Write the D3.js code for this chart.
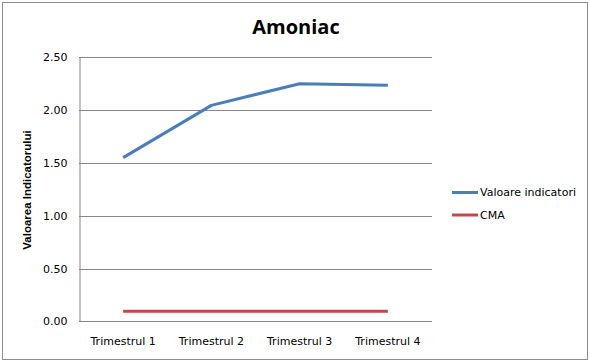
<!DOCTYPE html>
<html><head><meta charset="utf-8">
<script src="https://cdn.jsdelivr.net/npm/d3@7"></script>
<style>body{margin:0;background:#fff}svg{display:block}</style>
</head><body>
<svg id="c" width="590" height="362"></svg>
<script>
const categories = ["Trimestrul 1","Trimestrul 2","Trimestrul 3","Trimestrul 4"];
const valoareIndicatori = [1.55, 2.045, 2.25, 2.235];
const cma = [0.095, 0.095, 0.095, 0.095];
const yTicks = [0, 0.5, 1.0, 1.5, 2.0, 2.5];
const seriesNames = ["Valoare indicatori", "CMA"];
const seriesColors = ["#4a7ebb", "#be4b48"];

(function(){
const svg = d3.select("#c");
const font = "'DejaVu Sans', Verdana, sans-serif";
const pLeft = 79, pRight = 432, pTop = 57.3, pBottom = 321.3;

svg.append("rect").attr("x",2.5).attr("y",2.5).attr("width",585).attr("height",357)
  .attr("fill","#fff").attr("stroke","#8c8c8c").attr("stroke-width",1);

const x = d3.scaleBand().domain(categories).range([pLeft, pRight]).padding(0);
const y = d3.scaleLinear().domain([0, 2.5]).range([pBottom, pTop]);

svg.append("g").selectAll("line").data(yTicks).join("line")
  .attr("x1", pLeft).attr("x2", pRight)
  .attr("y1", d => Math.round(y(d))+0.5).attr("y2", d => Math.round(y(d))+0.5)
  .attr("stroke", "#868686").attr("stroke-width", 1);

const yAxis = d3.axisLeft(y).tickValues(yTicks).tickFormat(d3.format(".2f")).tickSize(0).tickPadding(12);
const ya = svg.append("g").attr("transform", `translate(${pLeft+0.5},0)`).call(yAxis);
ya.select(".domain").attr("stroke","#868686");
ya.selectAll("text").attr("font-family", font).attr("font-size", 11).attr("fill","#000");

const xAxis = d3.axisBottom(x).tickSize(0).tickPadding(16);
const xa = svg.append("g").attr("transform", `translate(0,${Math.round(pBottom)+0.5})`).call(xAxis);
xa.select(".domain").remove();
xa.selectAll("text").attr("font-family", font).attr("font-size", 11).attr("fill","#000");

const line = d3.line().x((d,i) => x(categories[i]) + x.bandwidth()/2).y(d => y(d));
[valoareIndicatori, cma].forEach((s, k) => {
  svg.append("path").datum(s).attr("d", line).attr("fill","none")
    .attr("stroke", seriesColors[k]).attr("stroke-width", 3).attr("stroke-linejoin","round");
});

svg.append("text").attr("x", 296).attr("y", 34).attr("text-anchor","middle")
  .attr("font-family", "'Open Sans', 'DejaVu Sans', sans-serif").attr("font-weight","bold")
  .attr("font-size", 20).text("Amoniac");

svg.append("text").attr("transform", "translate(31,190) rotate(-90)").attr("text-anchor","middle")
  .attr("font-family", "'Liberation Sans', Arial, sans-serif").attr("font-weight","bold").attr("font-size", 11.5).text("Valoarea Indicatorului");

const lg = svg.append("g");
seriesNames.forEach((n, k) => {
  const ly = 192.5 + k*22.5;
  lg.append("line").attr("x1", 452).attr("x2", 478).attr("y1", ly).attr("y2", ly)
    .attr("stroke", seriesColors[k]).attr("stroke-width", 3);
  lg.append("text").attr("x", 480).attr("y", ly).attr("dy","0.35em")
    .attr("font-family", font).attr("font-size", 11).text(n);
});
})();
</script>
</body></html>
